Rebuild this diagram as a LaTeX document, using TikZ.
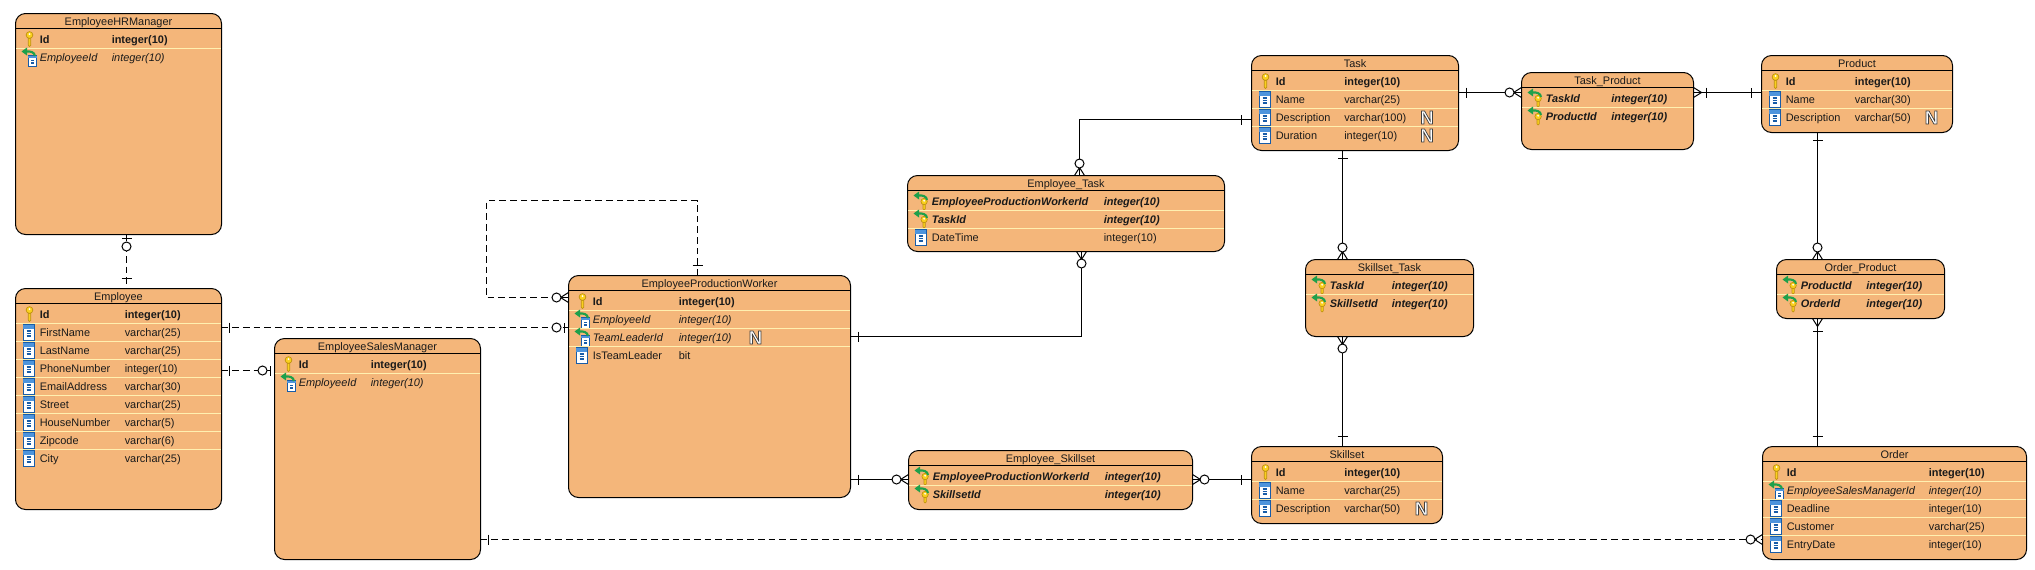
\documentclass[tikz,border=0pt]{standalone}
\usepackage{fontspec}
\setmainfont{Liberation Sans}
\usetikzlibrary{calc}
\definecolor{tablefill}{RGB}{244,182,122}
\definecolor{rowline}{RGB}{255,240,176}
\definecolor{inktext}{RGB}{26,26,26}
\definecolor{keygold}{RGB}{250,208,30}
\definecolor{keyedge}{RGB}{190,145,15}
\definecolor{colblue}{RGB}{24,92,168}
\definecolor{colband}{RGB}{78,148,220}
\definecolor{fkgreen}{RGB}{30,160,75}

\tikzset{
  tablebox/.style={draw, fill=tablefill, rounded corners=7.5pt, line width=.75pt, inner sep=0pt, outer sep=0pt, anchor=north west},
  tabletitle/.style={anchor=base, inner sep=0pt, text=inktext, font=\fontsize{8.2}{10}\selectfont},
  pktext/.style={anchor=base west, inner sep=0pt, text=inktext, font=\fontsize{8.2}{10}\selectfont\bfseries},
  fktext/.style={anchor=base west, inner sep=0pt, text=inktext, font=\fontsize{8.2}{10}\selectfont\itshape},
  pfktext/.style={anchor=base west, inner sep=0pt, text=inktext, font=\fontsize{8.2}{10}\selectfont\bfseries\itshape},
  coltext/.style={anchor=base west, inner sep=0pt, text=inktext, font=\fontsize{8.2}{10}\selectfont},
  nullbadge/.style={inner sep=0pt, text=white, font=\fontsize{14}{14}\selectfont\bfseries},
  relline/.style={line width=.75pt},
  dashline/.style={line width=.75pt, dash pattern=on 5pt off 3pt},
  pkicon/.pic={
    \draw[fill=keygold, draw=keyedge, line width=.5pt, solid] (12.8,-1) -- (12.8,6) -- (13.8,7.5) -- (15.2,6.5) -- (15.2,-1) -- cycle;
    \draw[fill=keygold, draw=keyedge, line width=.5pt, solid] (14,-4) circle (3.4);
    \fill[white] (14,-5) circle (1);
  },
  colicon/.pic={
    \draw[fill=white, draw=colblue, line width=.7pt, solid] (7.5,-7.5) rectangle (18.5,8);
    \fill[colband] (7.5,-7.5) rectangle (18.5,-3.5);
    \foreach \dotrow in {-1,1.5,4}
      \draw[colblue, line width=.8pt, solid] (11,\dotrow) -- (15,\dotrow);
  },
  fkarrow/.pic={
    \draw[fkgreen, line width=1.6pt, solid] (19.5,-1) .. controls (19,-5) and (15,-6) .. (10,-5.5);
    \fill[fkgreen] (6,-5.5) -- (11.5,-9.5) -- (11.5,-1.5) -- cycle;
  },
  fkicon/.pic={
    \draw[fill=white, draw=colblue, line width=.5pt, solid] (12.5,-1.5) rectangle (21,9);
    \fill[colband] (12.5,-1.5) rectangle (21,1);
    \foreach \dotrow in {3.5,6}
      \draw[colblue, line width=.8pt, solid] (15.5,\dotrow) -- (18,\dotrow);
    \pic at (0,0) {fkarrow};
  },
  pfkicon/.pic={
    \draw[fill=keygold, draw=keyedge, line width=.5pt, solid] (15.5,2) -- (15.5,8) -- (16.5,9) -- (17.7,8) -- (17.7,2) -- cycle;
    \draw[fill=keygold, draw=keyedge, line width=.5pt, solid] (16.6,.5) circle (3.2);
    \fill[white] (16.6,-.2) circle (1);
    \pic at (0,0) {fkarrow};
  },
  pics/onebar/.style={code={\draw[solid] (#1,-5) -- (#1,5);}},
  zeroone/.pic={
    \draw[solid] (4,-5) -- (4,5);
    \draw[solid, fill=white] (12,0) circle (4.5);
  },
  zeromany/.pic={
    \draw[solid] (0,-5) -- (8,0) -- (0,5);
    \draw[solid, fill=white] (12,0) circle (4.5);
  },
  manyone/.pic={
    \draw[solid] (0,-5) -- (8,0) -- (0,5);
    \draw[solid] (13,-5) -- (13,5);
  },
}

% #1 name, #2 x, #3 y, #4 width, #5 height, #6 title
\newcommand{\ertable}[6]{
  \node[tablebox, minimum width={#4*.75pt}, minimum height={#5*.75pt}] (#1) at (#2.5,#3.5) {};
  \node[tabletitle] (#1-title) at ($(#1.north)+(0,12)$) {#6};
  \draw[line width=.75pt] ($(#1.north west)+(0,15)$) -- ($(#1.north east)+(0,15)$);
}
% #1 table, #2 type column, #3 rows as icon/name/type
\newcommand{\errows}[3]{
  \foreach \kind/\colname/\coltype [count=\rowno from 0] in {#3} {
    \ifnum\rowno>0
      \draw[rowline, line width=.75pt] ($(#1.north west)+(.5,{17+18*\rowno})$) -- ($(#1.north east)+(-.5,{17+18*\rowno})$);
    \fi
    \path ($(#1.north west)+(0,{25.5+18*\rowno})$) pic {\kind icon};
    \node[\kind text] (#1-name-\rowno) at ($(#1.north west)+(24,{30+18*\rowno})$) {\colname};
    \node[\kind text] (#1-type-\rowno) at ($(#1.north west)+(#2,{30+18*\rowno})$) {\coltype};
  }
}
% white N with a grey edge, #1 table, #2 x offset, #3 row
\newcommand{\ernull}[3]{
  \node[nullbadge] (#1-null-#3) at ($(#1.north west)+(#2,{26+18*#3})$) {\special{pdf:code q 2 Tr 0.55 w 0.25 G 1 g}N\special{pdf:code Q}};
}

\begin{document}
\begin{tikzpicture}[x=.75pt, y=-.75pt]
\useasboundingbox (0,0) rectangle (2035,569);

\ertable{hrmanager}{15}{13}{206}{221}{EmployeeHRManager}
\errows{hrmanager}{96}{pk/Id/integer(10), fk/EmployeeId/integer(10)}

\ertable{employee}{15}{288}{206}{221}{Employee}
\errows{employee}{109}{pk/Id/integer(10), col/FirstName/varchar(25), col/LastName/varchar(25),
  col/PhoneNumber/integer(10), col/EmailAddress/varchar(30), col/Street/varchar(25),
  col/HouseNumber/varchar(5), col/Zipcode/varchar(6), col/City/varchar(25)}

\ertable{salesmanager}{274}{338}{206}{221}{EmployeeSalesManager}
\errows{salesmanager}{96}{pk/Id/integer(10), fk/EmployeeId/integer(10)}

\ertable{worker}{568}{275}{282}{222}{EmployeeProductionWorker}
\errows{worker}{110}{pk/Id/integer(10), fk/EmployeeId/integer(10), fk/TeamLeaderId/integer(10), col/IsTeamLeader/bit}
\ernull{worker}{187}{2}

\ertable{emptask}{907}{175}{317}{76}{Employee\_Task}
\errows{emptask}{196}{pfk/EmployeeProductionWorkerId/integer(10), pfk/TaskId/integer(10), col/DateTime/integer(10)}

\ertable{empskill}{908}{450}{284}{59}{Employee\_Skillset}
\errows{empskill}{196}{pfk/EmployeeProductionWorkerId/integer(10), pfk/SkillsetId/integer(10)}

\ertable{task}{1251}{55}{207}{95}{Task}
\errows{task}{92.5}{pk/Id/integer(10), col/Name/varchar(25), col/Description/varchar(100), col/Duration/integer(10)}
\ernull{task}{175.5}{2}
\ernull{task}{175.5}{3}

\ertable{skilltask}{1305}{259}{168}{77}{Skillset\_Task}
\errows{skilltask}{86}{pfk/TaskId/integer(10), pfk/SkillsetId/integer(10)}

\ertable{skillset}{1251}{446}{191}{77}{Skillset}
\errows{skillset}{92.5}{pk/Id/integer(10), col/Name/varchar(25), col/Description/varchar(50)}
\ernull{skillset}{170}{2}

\ertable{taskproduct}{1521}{72}{172}{77}{Task\_Product}
\errows{taskproduct}{89.5}{pfk/TaskId/integer(10), pfk/ProductId/integer(10)}

\ertable{product}{1761}{55}{191}{77}{Product}
\errows{product}{93}{pk/Id/integer(10), col/Name/varchar(30), col/Description/varchar(50)}
\ernull{product}{170}{2}

\ertable{orderproduct}{1776}{259}{168}{59}{Order\_Product}
\errows{orderproduct}{89.5}{pfk/ProductId/integer(10), pfk/OrderId/integer(10)}

\ertable{order}{1762}{446}{264}{113}{Order}
\errows{order}{166}{pk/Id/integer(10), fk/EmployeeSalesManagerId/integer(10), col/Deadline/integer(10),
  col/Customer/varchar(25), col/EntryDate/integer(10)}

% dashed relations
\coordinate (loopturn) at (486.5,200.5);
\draw[dashline] (hrmanager.south -| 126.5,0) pic[rotate=-90] {zeroone} -- (employee.north -| 126.5,0) pic[rotate=90] {onebar=10};
\draw[dashline] (employee.east |- 0,327.5) pic {onebar=8} -- (worker.west |- 0,327.5) pic[rotate=180] {zeroone};
\draw[dashline] (employee.east |- 0,370.5) pic {onebar=8} -- (salesmanager.west |- 0,370.5) pic[rotate=180] {zeroone};
\draw[dashline] (worker.north -| 697.5,0) pic[rotate=90] {onebar=10} |- (loopturn) |- (worker.west |- 0,297.5) pic[rotate=180] {zeromany};
\draw[dashline] (salesmanager.east |- 0,539.5) pic {onebar=8} -- (order.west |- 0,539.5) pic[rotate=180] {zeromany};

% solid relations
\draw[relline] (worker.east |- 0,336.5) pic {onebar=8} -| (emptask.south -| 1081.5,0) pic[rotate=-90] {zeromany};
\draw[relline] (task.west |- 0,119.5) pic[rotate=180] {onebar=10} -| (emptask.north -| 1079.5,0) pic[rotate=90] {zeromany};
\draw[relline] (worker.east |- 0,479.5) pic {onebar=8} -- (empskill.west |- 0,479.5) pic[rotate=180] {zeromany};
\draw[relline] (empskill.east |- 0,479.5) pic {zeromany} -- (skillset.west |- 0,479.5) pic[rotate=180] {onebar=10};
\draw[relline] (task.south -| 1342.5,0) pic[rotate=-90] {onebar=8} -- (skilltask.north -| 1342.5,0) pic[rotate=90] {zeromany};
\draw[relline] (skilltask.south -| 1342.5,0) pic[rotate=-90] {zeromany} -- (skillset.north -| 1342.5,0) pic[rotate=90] {onebar=10};
\draw[relline] (task.east |- 0,92.5) pic {onebar=8} -- (taskproduct.west |- 0,92.5) pic[rotate=180] {zeromany};
\draw[relline] (taskproduct.east |- 0,92.5) pic {manyone} -- (product.west |- 0,92.5) pic[rotate=180] {onebar=10};
\draw[relline] (product.south -| 1817.5,0) pic[rotate=-90] {onebar=8} -- (orderproduct.north -| 1817.5,0) pic[rotate=90] {zeromany};
\draw[relline] (orderproduct.south -| 1817.5,0) pic[rotate=-90] {manyone} -- (order.north -| 1817.5,0) pic[rotate=90] {onebar=10};
\end{tikzpicture}
\end{document}
